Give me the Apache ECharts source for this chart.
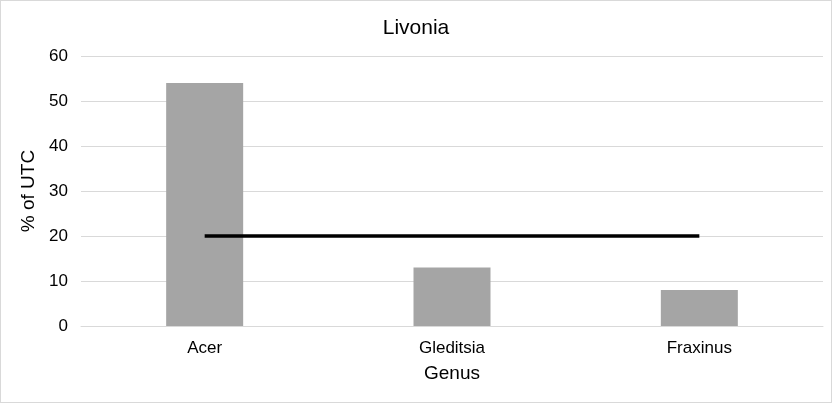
<!DOCTYPE html>
<html>
<head>
<meta charset="utf-8">
<script src="https://cdn.jsdelivr.net/npm/echarts@6/dist/echarts.min.js"></script>
<style>
  html, body { margin: 0; padding: 0; background: #fff; }
  #chart { width: 830px; height: 401px; border: 1px solid #d9d9d9; }
</style>
</head>
<body>
<div id="chart"></div>
<script>
const genera = ['Acer', 'Gleditsia', 'Fraxinus']
const utcShare = [54, 13, 8]
const targetLine = [20, 20, 20]
const yTicks = { min: 0, max: 60, interval: 10 }

const chart = echarts.init(document.getElementById('chart'))
const font = 'Liberation Sans, Arial, sans-serif'

chart.setOption({
  animation: false,
  textStyle: { fontFamily: font },
  title: {
    text: 'Livonia',
    left: 'center',
    top: 12,
    textStyle: { fontFamily: font, fontSize: 21, fontWeight: 'normal', color: '#000' }
  },
  grid: { left: 80, right: 8, top: 55, bottom: 76 },
  xAxis: {
    type: 'category',
    data: genera,
    name: 'Genus',
    nameLocation: 'middle',
    nameGap: 38,
    nameTextStyle: { fontFamily: font, fontSize: 19, color: '#000' },
    axisLine: { lineStyle: { color: '#d9d9d9' } },
    axisTick: { show: false },
    axisLabel: { fontFamily: font, fontSize: 17, color: '#000', margin: 14 }
  },
  yAxis: {
    type: 'value',
    min: yTicks.min,
    max: yTicks.max,
    interval: yTicks.interval,
    name: '% of UTC',
    nameLocation: 'middle',
    nameGap: 37,
    nameTextStyle: { fontFamily: font, fontSize: 19, color: '#000' },
    axisLine: { show: false },
    axisTick: { show: false },
    axisLabel: { fontFamily: font, fontSize: 17, color: '#000', margin: 13 },
    splitLine: { lineStyle: { color: '#d9d9d9', width: 1 } }
  },
  series: [
    {
      type: 'bar',
      data: utcShare,
      barWidth: 77,
      itemStyle: { color: '#a5a5a5' }
    },
    {
      type: 'line',
      data: targetLine,
      symbol: 'none',
      lineStyle: { color: '#000', width: 3.5 },
      z: 5
    }
  ]
})
</script>
</body>
</html>
